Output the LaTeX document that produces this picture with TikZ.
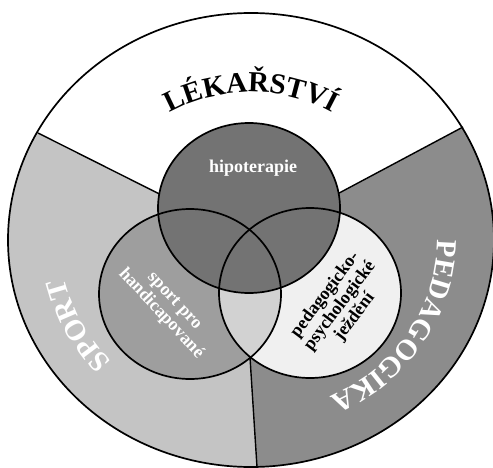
\documentclass[tikz,border=0pt]{standalone}
\usepackage{fontspec}
\setmainfont{Liberation Serif}
\usetikzlibrary{decorations.text}
\definecolor{secL}{HTML}{C4C4C4}
\definecolor{secR}{HTML}{8C8C8C}
\definecolor{cirT}{HTML}{737373}
\definecolor{cirL}{HTML}{9E9E9E}
\definecolor{cirR}{HTML}{F0F0F0}
\definecolor{cirLR}{HTML}{D2D2D2}
\begin{document}
\begin{tikzpicture}[x=1pt,y=1pt,
  outline/.style={draw=black,line width=1.7pt},
  divider/.style={draw=black,line width=1.4pt},
  innertext/.style={font=\fontsize{18pt}{18.5pt}\selectfont\bfseries,align=center,inner sep=0pt}]
\useasboundingbox (0,0) rectangle (493,467);
\clip (0,0) rectangle (493,467);
\coordinate (C) at (251,227);
\coordinate (Lend) at (38,334);
\coordinate (Rend) at (463,340);
\coordinate (B1) at (250,109.6);
\coordinate (Bend) at (257,0);
\coordinate (Tc) at (249,259);
\coordinate (Lc) at (190,173);
\coordinate (Rc) at (310,174);
% sectors
\begin{scope}
  \clip (C) ellipse [x radius=243pt, y radius=227pt];
  \fill[secL] (C) ellipse [x radius=243pt, y radius=227pt];
  \fill[white] (C) -- (-175,441) -- (-175,700) -- (700,700) -- (675,453) -- cycle;
  \fill[secR] (B1) -- (C) -- (675,453) -- (700,-300) -- (276,-300) -- cycle;
\end{scope}
\draw[divider] (C) -- (Lend);
\draw[divider] (C) -- (Rend);
% circles
\fill[cirL] (Lc) ellipse [x radius=91pt, y radius=85pt];
\fill[cirR] (Rc) ellipse [x radius=91pt, y radius=85pt];
\begin{scope}
  \clip (Lc) ellipse [x radius=91pt, y radius=85pt];
  \fill[cirLR] (Rc) ellipse [x radius=91pt, y radius=85pt];
\end{scope}
\fill[cirT] (Tc) ellipse [x radius=91pt, y radius=85pt];
\draw[divider] (B1) -- (Bend);
\draw[outline] (Lc) ellipse [x radius=91pt, y radius=85pt];
\draw[outline] (Rc) ellipse [x radius=91pt, y radius=85pt];
\draw[outline] (Tc) ellipse [x radius=91pt, y radius=85pt];
\draw[outline] (C) ellipse [x radius=243pt, y radius=227pt];
% curved titles
\path[decorate,decoration={text along path,text align=center,
  text={|\fontsize{29pt}{29pt}\selectfont\bfseries|LÉKAŘSTVÍ}}]
  (C) ++(150:159pt and 148pt) arc[start angle=150,end angle=30,x radius=159pt,y radius=148pt];
\path[decorate,decoration={text along path,text align=center,
  text={|\fontsize{29pt}{29pt}\selectfont\bfseries\color{white}|PEDAGOGIKA}}]
  (C) ++(13:186pt and 173pt) arc[start angle=13,end angle=-77,x radius=186pt,y radius=173pt];
\path[decorate,decoration={text along path,text align=center,
  text={|\fontsize{29pt}{29pt}\selectfont\bfseries\color{white}|SPORT}}]
  (C) ++(-108:191pt and 178pt) arc[start angle=-108,end angle=-198,x radius=191pt,y radius=178pt];
% inner texts
\node[innertext,text=white] (hip) at (253,299) {hipoterapie};
\node[innertext,text=white,rotate=-47] (spt) at (167,159) {sport pro\\handicapované};
\node[innertext,text=black,rotate=53] (ped) at (340,161) {pedagogicko-\\psychologické\\ježdění};
\end{tikzpicture}
\end{document}
